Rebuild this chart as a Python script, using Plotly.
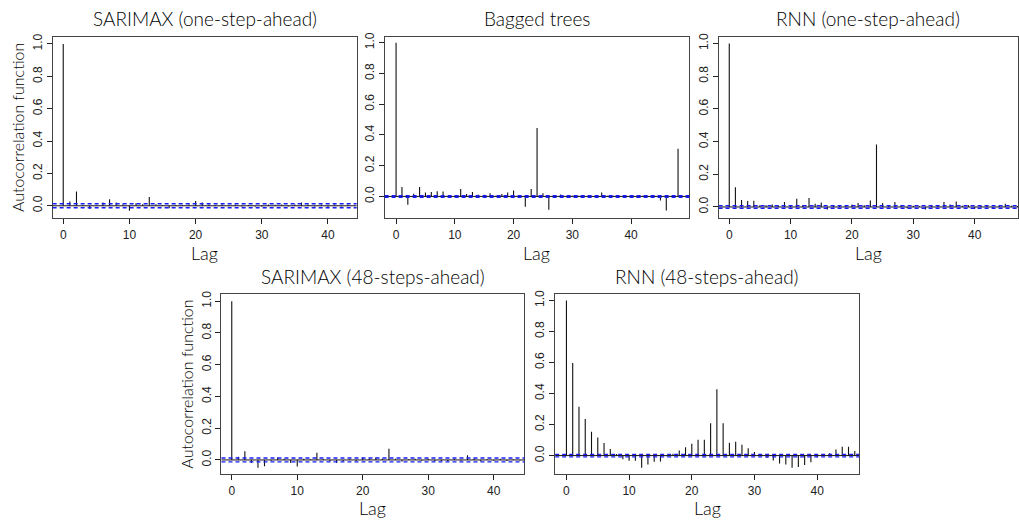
import plotly.graph_objects as go

# ---------------- data ----------------
titles = ["SARIMAX (one-step-ahead)", "Bagged trees", "RNN (one-step-ahead)",
          "SARIMAX (48-steps-ahead)", "RNN (48-steps-ahead)"]

sarimax_one = [1.0, 0.027, 0.088, 0.005, -0.02, 0.005, 0.02, 0.04, 0.02, 0.008,
               -0.03, 0.015, 0.01, 0.055, 0.01, 0.005, -0.015, 0.005, 0.005, 0.008,
               0.03, 0.02, 0.008, 0.005, 0.008, 0.004, 0.008, -0.005, 0.005, -0.005,
               -0.006, 0.008, 0.006, 0.008, -0.004, 0.008, 0.02, 0.008, -0.005, 0.006,
               -0.006, 0.008, -0.005, 0.006, 0.004, 0.005, -0.004, 0.006, 0.005]
bagged = [1.0, 0.062, -0.054, 0.017, 0.062, 0.026, 0.028, 0.034, 0.032, 0.005,
          0.005, 0.049, 0.015, 0.028, 0.011, 0.011, 0.02, 0.005, 0.015, 0.026,
          0.039, 0.005, -0.067, 0.049, 0.445, 0.02, -0.086, 0.005, 0.013, -0.006,
          0.004, 0.004, 0.005, -0.005, 0.004, 0.026, 0.005, 0.004, 0.003, 0.003,
          0.004, -0.008, 0.005, 0.003, 0.004, -0.026, -0.092, 0.005, 0.31]
rnn_one = [1.0, 0.12, 0.043, 0.036, 0.038, 0.01, 0.01, 0.015, 0.008, 0.03,
           0.01, 0.05, 0.012, 0.055, 0.02, 0.028, -0.015, 0.008, 0.006, 0.01,
           0.015, 0.024, 0.01, 0.04, 0.382, 0.025, 0.008, 0.03, 0.01, -0.008,
           0.008, 0.005, -0.015, 0.008, 0.01, 0.03, 0.015, 0.033, 0.008, 0.01,
           -0.012, 0.008, 0.006, -0.01, 0.008, 0.02, 0.008, 0.006, 0.005]
sarimax_48 = [1.0, 0.02, 0.055, -0.02, -0.05, -0.04, -0.005, 0.015, 0.008, -0.02,
              -0.042, 0.008, 0.005, 0.045, 0.005, -0.008, -0.02, -0.008, 0.005, -0.006,
              0.015, 0.008, 0.015, 0.008, 0.07, 0.008, -0.01, 0.005, 0.008, -0.005,
              0.008, -0.008, -0.006, -0.008, 0.006, -0.005, 0.03, 0.008, -0.008, 0.005,
              -0.005, 0.008, -0.006, 0.005, -0.004, 0.005, -0.004, 0.005, 0.004]
rnn_48 = [1.0, 0.596, 0.315, 0.236, 0.153, 0.117, 0.081, 0.043, 0.01, -0.023,
          -0.034, -0.034, -0.079, -0.057, -0.04, -0.038, -0.005, 0.012, 0.032, 0.053,
          0.077, 0.102, 0.102, 0.208, 0.428, 0.208, 0.083, 0.089, 0.07, 0.047,
          0.023, 0.005, -0.015, -0.032, -0.051, -0.057, -0.079, -0.074, -0.06, -0.043,
          -0.01, 0.005, 0.015, 0.04, 0.057, 0.057, 0.03, 0.01, 0.005]
series = [sarimax_one, bagged, rnn_one, sarimax_48, rnn_48]
conf_bounds = [0.0125, 0.005, 0.008, 0.0125, 0.008]

x_tick_vals = [0, 10, 20, 30, 40]
y_tick_vals = [0.0, 0.2, 0.4, 0.6, 0.8, 1.0]
y_tick_text = ["0.0", "0.2", "0.4", "0.6", "0.8", "1.0"]

# ---------------- layout geometry ----------------
W, H = 1019, 520
# panel boxes in pixels: (left, right, top, bottom)
boxes = [(52.7, 357, 32, 215), (385, 690, 32, 215), (719.3, 1019, 32, 215),
         (221.7, 525, 292.3, 473.3), (555.7, 860, 292.3, 473.3)]
x_ranges = [[-1.6, 44.33], [-1.95, 49.92], [-1.74, 47.07], [-1.57, 44.7], [-1.8, 46.7]]
y_ranges = [[-0.075, 1.045], [-0.14, 1.039], [-0.067, 1.042], [-0.087, 1.042], [-0.117, 1.038]]
show_ylabel = [True, False, False, True, False]

fig = go.Figure()
light_font = "Lato, DejaVu Sans, sans-serif"
title_font = dict(family=light_font, size=19, color="#000", weight=300)
tick_font = dict(family="Liberation Sans, Arial, sans-serif", size=12, color="#222")

for i, vals in enumerate(series):
    k = "" if i == 0 else str(i + 1)
    xs, ys = [], []
    for lag, v in enumerate(vals):
        xs += [lag, lag, None]
        ys += [0, v, None]
    fig.add_trace(go.Scatter(x=xs, y=ys, mode="lines", line=dict(color="#111", width=1.1),
                             xaxis="x" + k, yaxis="y" + k, showlegend=False, hoverinfo="skip"))
    l, r, t, b = boxes[i]
    fig.layout["xaxis" + k] = dict(
        domain=[l / W, r / W], range=x_ranges[i], anchor="y" + k,
        tickvals=x_tick_vals, ticks="outside", ticklen=5, tickcolor="#222",
        ticklabelstandoff=1,
        showline=True, mirror=True, linecolor="#444", linewidth=1,
        showgrid=False, zeroline=False, tickfont=tick_font)
    fig.layout["yaxis" + k] = dict(
        domain=[1 - b / H, 1 - t / H], range=y_ranges[i], anchor="x" + k,
        tickvals=y_tick_vals, ticktext=y_tick_text, tickangle=-90,
        ticks="outside", ticklen=5, tickcolor="#222",
        showline=True, mirror=True, linecolor="#444", linewidth=1,
        showgrid=False, zeroline=False, tickfont=tick_font)
    # zero line and confidence bounds
    fig.add_shape(type="line", xref="x%s domain" % k, yref="y" + k, x0=0, x1=1, y0=0, y1=0,
                  line=dict(color="#111", width=1))
    for s in (1, -1):
        fig.add_shape(type="line", xref="x%s domain" % k, yref="y" + k, x0=0, x1=1,
                      y0=s * conf_bounds[i], y1=s * conf_bounds[i],
                      line=dict(color="#1a1aff", width=1.4, dash="4px,3px"))
    # title
    fig.add_annotation(text=titles[i], xref="paper", yref="paper",
                       x=(l + r) / 2 / W, y=1 - (t - 18) / H, showarrow=False,
                       font=title_font, xanchor="center", yanchor="middle")
    # x label
    fig.add_annotation(text="Lag", xref="paper", yref="paper",
                       x=(l + r) / 2 / W, y=1 - (b + 35) / H, showarrow=False,
                       font=dict(family=light_font, size=18, color="#000", weight=300),
                       xanchor="center", yanchor="middle")
    if show_ylabel[i]:
        fig.add_annotation(text="Autocorrelation function", xref="paper", yref="paper",
                           x=(l - 35) / W, y=1 - (t + b) / 2 / H, showarrow=False, textangle=-90,
                           font=dict(family=light_font, size=16, color="#000", weight=300),
                           xanchor="center", yanchor="middle")

fig.update_layout(width=W, height=H, margin=dict(l=0, r=0, t=0, b=0),
                  plot_bgcolor="white", paper_bgcolor="white")
fig.write_html("out.html")
